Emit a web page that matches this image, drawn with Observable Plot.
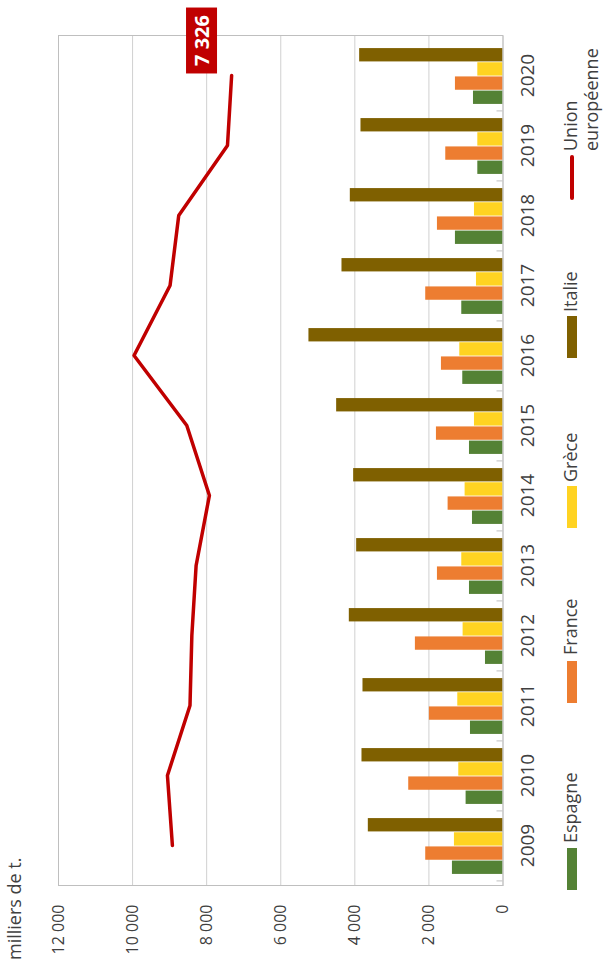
<!DOCTYPE html>
<html lang="fr"><head><meta charset="utf-8">
<script src="https://cdn.jsdelivr.net/npm/d3@7"></script>
<script src="https://cdn.jsdelivr.net/npm/@observablehq/plot@0.6"></script>
<style>
html,body{margin:0;padding:0;width:608px;height:959px;overflow:hidden;background:#fff}
#wrap{position:absolute;left:0;top:0;width:959px;height:608px;transform-origin:0 0;transform:translate(0px,959px) rotate(-90deg);font-family:"Open Sans",sans-serif;color:#404040;}
#chart{position:absolute;left:0;top:0}
#title{position:absolute;left:-1px;top:3px;font-size:18px;line-height:22px;white-space:nowrap}
.lg{position:absolute;font-size:18px;line-height:21px;white-space:nowrap}
.sw{position:absolute}
</style></head><body>
<div id="wrap"><div id="chart"></div><div id="title">milliers de t.</div><div id="legend"></div></div>
<script>
// ---- data ----
const years   = [2009, 2010, 2011, 2012, 2013, 2014, 2015, 2016, 2017, 2018, 2019, 2020];
const espagne = [1365,  996,  878,  473,  905,  824,  905, 1086, 1113, 1284,  680,  797];
const france  = [2086, 2545, 1987, 2365, 1770, 1482, 1797, 1662, 2086, 1770, 1545, 1284];
const grece   = [1311, 1194, 1221, 1077, 1113, 1023,  770, 1167,  716,  770,  680,  680];
const italie  = [3636, 3807, 3780, 4149, 3951, 4032, 4491, 5239, 4347, 4122, 3834, 3870];
const ue      = [8925, 9059, 8450, 8400, 8285, 7926, 8537, 9961, 8988, 8754, 7438, 7326];
const countries = ["Espagne", "France", "Grèce", "Italie"];
const lineName = ["Union", "européenne"];
const yTicks = [0, 2000, 4000, 6000, 8000, 10000, 12000];
const unitLabel = "milliers de t.";

// ---- styles ----
const colors = {Espagne: "#548235", France: "#ed7d31", "Grèce": "#ffd322", Italie: "#7f6000"};
const lineColor = "#c00000";

const rows = years.map((year, i) => ({year, ue: ue[i], Espagne: espagne[i], France: france[i], "Grèce": grece[i], Italie: italie[i]}));

const fr = d3.formatLocale({decimal: ",", thousands: "\u00a0", grouping: [3], currency: ["", " €"]});
const fmt = fr.format(",");

const W = 959, H = 608, ML = 73, MR = 36, MT = 58, MB = 105.5;
const bw = (W - ML - MR) / years.length;
const pad = bw * 0.1;
const barW = (bw - 2 * pad) / 4;

const bars = countries.map((c, k) => Plot.barY(rows, {
  x: "year", y: c, fill: colors[c],
  insetLeft: pad + k * barW, insetRight: pad + (3 - k) * barW
}));

const last = rows[rows.length - 1];

const chart = Plot.plot({
  width: W, height: H, marginLeft: ML, marginRight: MR, marginTop: MT, marginBottom: MB,
  style: {fontFamily: "Open Sans, sans-serif", color: "#404040", background: "transparent", overflow: "visible"},
  x: {type: "band", domain: years, padding: 0, label: null},
  y: {domain: [0, 12000], label: null},
  marks: [
    Plot.gridY(yTicks, {stroke: "#d0d0d0", strokeOpacity: 1}),
    Plot.axisY(yTicks, {tickSize: 0, tickPadding: 19, tickFormat: fmt, fontSize: 16, fill: "#404040"}),
    Plot.axisX({tickSize: 0, tickPadding: 17.5, fontSize: 19, fill: "#404040", tickFormat: d => String(d)}),
    ...bars,
    Plot.ruleX(years, {x: d => d, y1: 0, y2: 0, insetBottom: 6, dx: -bw / 2, stroke: "#bfbfbf"}),
    Plot.frame({stroke: "#bfbfbf"}),
    Plot.line(rows, {x: "year", y: "ue", stroke: lineColor, strokeWidth: 3.5, strokeLinecap: "round", strokeLinejoin: "round"}),
    Plot.text([last], {x: "year", y: "ue", text: d => fmt(d.ue), dx: 35, dy: -29, fill: "white", fontSize: 20, fontWeight: "bold", textAnchor: "middle"})
  ]
});
document.getElementById("chart").appendChild(chart);

// red box behind the value label
const labelText = fmt(last.ue);
d3.select(chart).selectAll("text").filter(function() { return this.textContent === labelText; }).each(function() {
  const b = this.getBBox();
  const px = 7.5, boxH = 31;
  const cy = b.y + b.height / 2;
  d3.select(this.parentNode).insert("rect", () => this)
    .attr("x", b.x - px).attr("y", cy - boxH / 2).attr("width", b.width + 2 * px).attr("height", boxH)
    .attr("fill", lineColor)
    .attr("transform", this.getAttribute("transform"));
});

// legend
const legend = document.getElementById("legend");
const swX = [69, 256, 431, 601], txX = [116, 304, 477, 647];
countries.forEach((c, k) => {
  const s = document.createElement("div");
  s.className = "sw";
  Object.assign(s.style, {left: swX[k] + "px", top: "567px", width: "42px", height: "10px", background: colors[c]});
  legend.appendChild(s);
  const t = document.createElement("div");
  t.className = "lg";
  Object.assign(t.style, {left: txX[k] + "px", top: "560px"});
  t.textContent = c;
  legend.appendChild(t);
});
const ls = document.createElement("div");
ls.className = "sw";
Object.assign(ls.style, {left: "759px", top: "570px", width: "45px", height: "4px", background: lineColor, borderRadius: "2px"});
legend.appendChild(ls);
const lt = document.createElement("div");
lt.className = "lg";
Object.assign(lt.style, {left: "808px", top: "560px"});
lt.innerHTML = lineName.join("<br>");
legend.appendChild(lt);
</script>
</body></html>
